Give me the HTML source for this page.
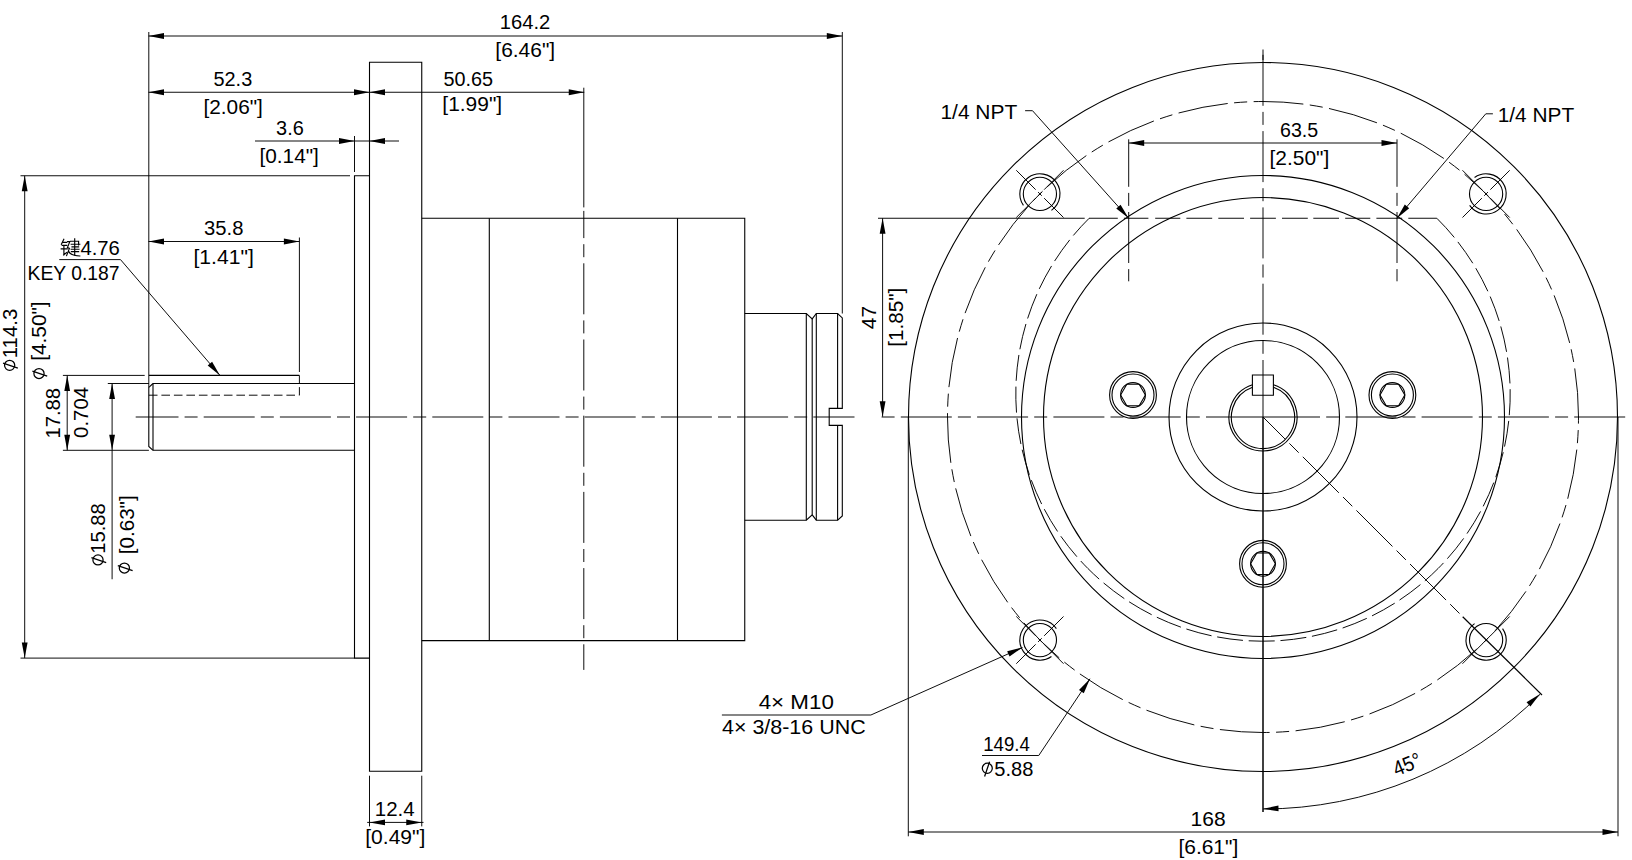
<!DOCTYPE html>
<html><head><meta charset="utf-8"><style>
html,body{margin:0;padding:0;background:#fff;overflow:hidden;width:1632px;height:860px;}
svg{display:block;}
text{font-family:"Liberation Sans",sans-serif;fill:#000;}
</style></head><body>
<svg width="1632" height="860" viewBox="0 0 1632 860">
<rect width="1632" height="860" fill="#fff"/>
<line x1="148.8" y1="32" x2="148.8" y2="387.4" stroke-width="0.95" stroke="#000"/>
<line x1="842.3" y1="32" x2="842.3" y2="313.5" stroke-width="0.95" stroke="#000"/>
<line x1="148.5" y1="36" x2="842.3" y2="36" stroke-width="0.95" stroke="#000"/>
<polygon points="148.5,36 164,38.9 164,33.1" fill="#000"/>
<polygon points="842.3,36 826.8,33.1 826.8,38.9" fill="#000"/>
<text transform="translate(499.78 28.8) scale(0.9624 1.0000)" font-size="21">164.2</text>
<text transform="translate(495.33 56.9) scale(0.9980 1.0000)" font-size="21">[6.46&quot;]</text>
<line x1="148.5" y1="92.25" x2="584.25" y2="92.25" stroke-width="0.95" stroke="#000"/>
<polygon points="148.5,92.25 164,95.15 164,89.35" fill="#000"/>
<polygon points="369.5,92.25 354,89.35 354,95.15" fill="#000"/>
<polygon points="369.5,92.25 385,95.15 385,89.35" fill="#000"/>
<polygon points="584.25,92.25 568.75,89.35 568.75,95.15" fill="#000"/>
<text transform="translate(213.5 86.1) scale(0.9473 1.0000)" font-size="21">52.3</text>
<text transform="translate(203.44 114) scale(0.9910 1.0000)" font-size="21">[2.06&quot;]</text>
<text transform="translate(443.41 86.1) scale(0.9445 1.0000)" font-size="21">50.65</text>
<text transform="translate(442.33 110.9) scale(0.9980 1.0000)" font-size="21">[1.99&quot;]</text>
<line x1="583.8" y1="87.7" x2="583.8" y2="207.4" stroke-width="0.95" stroke="#000"/>
<line x1="583.8" y1="210.9" x2="583.8" y2="669.9" stroke-width="0.95" stroke="#000" stroke-dasharray="51 6.1 13 6.1" stroke-dashoffset="23.8"/>
<line x1="255" y1="141" x2="399" y2="141" stroke-width="0.95" stroke="#000"/>
<polygon points="354.5,141 339,138.1 339,143.9" fill="#000"/>
<polygon points="369.5,141 385,143.9 385,138.1" fill="#000"/>
<line x1="354.5" y1="136" x2="354.5" y2="172" stroke-width="0.95" stroke="#000"/>
<text transform="translate(276.1 135.1) scale(0.9487 1.0000)" font-size="21">3.6</text>
<text transform="translate(259.44 163) scale(0.9910 1.0000)" font-size="21">[0.14&quot;]</text>
<polygon points="369.5,62.25 421.75,62.25 421.75,771.3 369.5,771.3" stroke-width="1.1" stroke="#000" fill="none"/>
<polyline points="369.5,175.75 354.5,175.75 354.5,658.1 369.5,658.1" stroke-width="1.1" stroke="#000" fill="none"/>
<line x1="20.5" y1="175.75" x2="350" y2="175.75" stroke-width="0.95" stroke="#000"/>
<line x1="20.5" y1="658.1" x2="354.5" y2="658.1" stroke-width="0.95" stroke="#000"/>
<line x1="24.7" y1="175.75" x2="24.7" y2="658.1" stroke-width="0.95" stroke="#000"/>
<polygon points="24.7,175.75 21.8,191.25 27.6,191.25" fill="#000"/>
<polygon points="24.7,658.1 27.6,642.6 21.8,642.6" fill="#000"/>
<polyline points="421.75,218.25 744.75,218.25 744.75,640.6 421.75,640.6" stroke-width="1.1" stroke="#000" fill="none"/>
<line x1="489.3" y1="218.25" x2="489.3" y2="640.6" stroke-width="1.1" stroke="#000"/>
<line x1="677.5" y1="218.25" x2="677.5" y2="640.6" stroke-width="1.1" stroke="#000"/>
<polyline points="744.75,313.5 806.3,313.5 812.2,318.9 816.3,313.5 837.6,313.5 842.3,317.9 842.3,408.4 829.2,408.4 829.2,425.4 842.3,425.4 842.3,516 837.6,520.2 816.3,520.2 812.2,514.8 806.3,520.2 744.75,520.2" stroke-width="1.1" stroke="#000" fill="none"/>
<line x1="806.3" y1="313.5" x2="806.3" y2="520.2" stroke-width="1.1" stroke="#000"/>
<line x1="812.2" y1="318.9" x2="812.2" y2="514.8" stroke-width="1.1" stroke="#000"/>
<line x1="816.3" y1="313.5" x2="816.3" y2="520.2" stroke-width="1.1" stroke="#000"/>
<line x1="837.6" y1="313.5" x2="837.6" y2="408.4" stroke-width="1.1" stroke="#000"/>
<line x1="837.6" y1="425.4" x2="837.6" y2="520.2" stroke-width="1.1" stroke="#000"/>
<line x1="369.5" y1="775.7" x2="369.5" y2="826.4" stroke-width="0.95" stroke="#000"/>
<line x1="421.75" y1="775.7" x2="421.75" y2="826.4" stroke-width="0.95" stroke="#000"/>
<line x1="367.2" y1="822.4" x2="423.5" y2="822.4" stroke-width="0.95" stroke="#000"/>
<polygon points="369.5,822.4 385,825.3 385,819.5" fill="#000"/>
<polygon points="421.75,822.4 406.25,819.5 406.25,825.3" fill="#000"/>
<text transform="translate(374.76 815.8) scale(0.9757 1.0000)" font-size="21">12.4</text>
<text transform="translate(365.23 843.9) scale(1.0032 1.0000)" font-size="21">[0.49&quot;]</text>
<line x1="153" y1="383.5" x2="354.5" y2="383.5" stroke-width="1.1" stroke="#000"/>
<line x1="153" y1="450.3" x2="354.5" y2="450.3" stroke-width="1.1" stroke="#000"/>
<polyline points="153,383.5 148.8,387.4 148.8,446.4 153,450.3" stroke-width="1.1" stroke="#000" fill="none"/>
<line x1="153" y1="383.5" x2="153" y2="450.3" stroke-width="1.1" stroke="#000"/>
<line x1="148.9" y1="375.4" x2="299.4" y2="375.4" stroke-width="1.1" stroke="#000"/>
<line x1="299.4" y1="237.5" x2="299.4" y2="372" stroke-width="0.95" stroke="#000"/>
<path d="M148.9 395.2 L299.4 395.2 L299.4 375.4" fill="none" stroke="#000" stroke-width="0.95" stroke-dasharray="8.6 3.9"/>
<line x1="148.5" y1="241.5" x2="299.4" y2="241.5" stroke-width="0.95" stroke="#000"/>
<polygon points="148.5,241.5 164,244.4 164,238.6" fill="#000"/>
<polygon points="299.4,241.5 283.9,238.6 283.9,244.4" fill="#000"/>
<text transform="translate(204.09 235) scale(0.9626 1.0000)" font-size="21">35.8</text>
<text transform="translate(193.42 263.6) scale(1.0068 1.0000)" font-size="21">[1.41&quot;]</text>
<line x1="59.3" y1="259.6" x2="120.5" y2="259.6" stroke-width="0.95" stroke="#000"/>
<line x1="120.5" y1="259.6" x2="220" y2="375.4" stroke-width="0.95" stroke="#000"/>
<polygon points="220,375.4 212.1,361.75 207.7,365.53" fill="#000"/>
<text transform="translate(80.39 255.2) scale(0.9650 1.0000)" font-size="21">4.76</text>
<text transform="translate(27.55 279.8) scale(0.9205 1.0000)" font-size="21">KEY 0.187</text>
<path d="M63.8 239.2 L61.4 244.2 M63.4 242.3 L66.6 242.3 M62.2 245.4 L66.8 245.4 M61.2 248.8 L67.2 248.8 M63.9 245.4 L63.9 255 M63.6 255 L66.6 252.6" stroke="#000" stroke-width="1.15" fill="none" stroke-linecap="square"/>
<path d="M70.6 241.2 L78.6 241.2 L78.6 245 M71.2 244.2 L79.8 244.2 M72 246.8 L78.6 246.8 M71.2 249.2 L79 249.2 M71.4 251.6 L78.6 251.6 M74.7 238.8 L74.7 254.8" stroke="#000" stroke-width="1.15" fill="none" stroke-linecap="square"/>
<path d="M67.6 241.6 L69.8 241.6 L67.4 247.6 L69.4 248.4 L66.6 255.6 M68.8 251.6 Q71 255.6 79.8 256" stroke="#000" stroke-width="1.15" fill="none" stroke-linecap="square"/>
<line x1="62.9" y1="375.4" x2="144.7" y2="375.4" stroke-width="0.95" stroke="#000"/>
<line x1="107.8" y1="383.5" x2="148.9" y2="383.5" stroke-width="0.95" stroke="#000"/>
<line x1="62.9" y1="450.3" x2="148.9" y2="450.3" stroke-width="0.95" stroke="#000"/>
<line x1="67.2" y1="375.4" x2="67.2" y2="450.3" stroke-width="0.95" stroke="#000"/>
<polygon points="67.2,375.4 64.3,390.9 70.1,390.9" fill="#000"/>
<polygon points="67.2,450.3 70.1,434.8 64.3,434.8" fill="#000"/>
<line x1="112.1" y1="383.5" x2="112.1" y2="579.25" stroke-width="0.95" stroke="#000"/>
<polygon points="112.1,383.5 109.2,399 115,399" fill="#000"/>
<polygon points="112.1,450.3 115,434.8 109.2,434.8" fill="#000"/>
<line x1="135.7" y1="417" x2="854.5" y2="417" stroke-width="0.95" stroke="#000" stroke-dasharray="51 6.1 13 6.1" stroke-dashoffset="8.2"/>
<text transform="translate(16.75 358.23) rotate(-90) scale(0.9709 1.0000)" font-size="21">114.3</text>
<g transform="translate(9.65 365.35) rotate(-90)"><ellipse rx="5" ry="5.1" fill="none" stroke="#000" stroke-width="1.25"/><line x1="2.3" y1="-6.6" x2="-2.7" y2="8.2" stroke="#000" stroke-width="1.25"/></g>
<text transform="translate(46.1 360.86) rotate(-90) scale(0.9927 1.0000)" font-size="21">[4.50&quot;]</text>
<g transform="translate(39 373.5) rotate(-90)"><ellipse rx="5" ry="5.1" fill="none" stroke="#000" stroke-width="1.25"/><line x1="2.3" y1="-6.6" x2="-2.7" y2="8.2" stroke="#000" stroke-width="1.25"/></g>
<text transform="translate(60.3 438.62) rotate(-90) scale(0.9664 1.0000)" font-size="21">17.88</text>
<text transform="translate(87.9 437.91) rotate(-90) scale(0.9700 1.0000)" font-size="21">0.704</text>
<text transform="translate(104.5 553.82) rotate(-90) scale(0.9624 1.0000)" font-size="21">15.88</text>
<g transform="translate(98 559.9) rotate(-90)"><ellipse rx="5" ry="5.1" fill="none" stroke="#000" stroke-width="1.25"/><line x1="2.3" y1="-6.6" x2="-2.7" y2="8.2" stroke="#000" stroke-width="1.25"/></g>
<text transform="translate(133.8 554.24) rotate(-90) scale(0.9822 1.0000)" font-size="21">[0.63&quot;]</text>
<g transform="translate(124.4 568) rotate(-90)"><ellipse rx="5" ry="5.1" fill="none" stroke="#000" stroke-width="1.25"/><line x1="2.3" y1="-6.6" x2="-2.7" y2="8.2" stroke="#000" stroke-width="1.25"/></g>
<circle cx="1263" cy="417" r="354.5" stroke-width="1.1" stroke="#000" fill="none"/>
<circle cx="1263" cy="417" r="315.5" stroke-width="0.95" stroke="#000" fill="none" stroke-dasharray="50 6.5 13 6.5" stroke-dashoffset="43.3"/>
<circle cx="1263" cy="417" r="241.5" stroke-width="1.1" stroke="#000" fill="none"/>
<circle cx="1263" cy="417" r="219.5" stroke-width="1.1" stroke="#000" fill="none"/>
<circle cx="1263" cy="417" r="94" stroke-width="1.1" stroke="#000" fill="none"/>
<circle cx="1263" cy="417" r="76.5" stroke-width="1.1" stroke="#000" fill="none"/>
<line x1="1089" y1="218.25" x2="1117.8" y2="218.25" stroke-width="0.95" stroke="#000"/>
<line x1="1123.9" y1="218.25" x2="1148.4" y2="218.25" stroke-width="0.95" stroke="#000"/>
<line x1="1155.2" y1="218.25" x2="1180.3" y2="218.25" stroke-width="0.95" stroke="#000"/>
<line x1="1186.4" y1="218.25" x2="1212.2" y2="218.25" stroke-width="0.95" stroke="#000"/>
<line x1="1218.3" y1="218.25" x2="1244" y2="218.25" stroke-width="0.95" stroke="#000"/>
<line x1="1250.1" y1="218.25" x2="1275.9" y2="218.25" stroke-width="0.95" stroke="#000"/>
<line x1="1282" y1="218.25" x2="1307.8" y2="218.25" stroke-width="0.95" stroke="#000"/>
<line x1="1313.3" y1="218.25" x2="1339" y2="218.25" stroke-width="0.95" stroke="#000"/>
<line x1="1345.2" y1="218.25" x2="1370.3" y2="218.25" stroke-width="0.95" stroke="#000"/>
<line x1="1376.4" y1="218.25" x2="1402.2" y2="218.25" stroke-width="0.95" stroke="#000"/>
<line x1="1408.3" y1="218.25" x2="1436.84" y2="218.25" stroke-width="0.95" stroke="#000"/>
<path d="M1436.84 218.25 A247.2 247.2 0 1 1 1089.16 218.25" stroke="#000" stroke-width="0.95" fill="none" stroke-dasharray="26 5.77"/>
<line x1="878" y1="218.25" x2="1084.7" y2="218.25" stroke-width="0.95" stroke="#000"/>
<path d="M1273.5 384.66 A34 34 0 1 1 1252.5 384.66" stroke-width="1.1" stroke="#000" fill="none"/>
<path d="M1273.5 387.2 A31.6 31.6 0 1 1 1252.5 387.2" stroke-width="1.1" stroke="#000" fill="none"/>
<polygon points="1252.4,375 1273.4,375 1273.4,395.3 1252.4,395.3" stroke-width="1.1" stroke="#000" fill="none"/>
<circle cx="1133" cy="395" r="23.4" stroke-width="1.1" stroke="#000" fill="none"/>
<circle cx="1133" cy="395" r="21" stroke-width="1.1" stroke="#000" fill="none"/>
<circle cx="1133" cy="395" r="12.4" stroke-width="1.1" stroke="#000" fill="none"/>
<polygon points="1145.4,395 1139.2,405.74 1126.8,405.74 1120.6,395 1126.8,384.26 1139.2,384.26" stroke-width="1.1" stroke="#000" fill="none"/>
<circle cx="1392.4" cy="395" r="23.4" stroke-width="1.1" stroke="#000" fill="none"/>
<circle cx="1392.4" cy="395" r="21" stroke-width="1.1" stroke="#000" fill="none"/>
<circle cx="1392.4" cy="395" r="12.4" stroke-width="1.1" stroke="#000" fill="none"/>
<polygon points="1404.8,395 1398.6,405.74 1386.2,405.74 1380,395 1386.2,384.26 1398.6,384.26" stroke-width="1.1" stroke="#000" fill="none"/>
<circle cx="1263" cy="563.8" r="23.4" stroke-width="1.1" stroke="#000" fill="none"/>
<circle cx="1263" cy="563.8" r="21" stroke-width="1.1" stroke="#000" fill="none"/>
<circle cx="1263" cy="563.8" r="12.4" stroke-width="1.1" stroke="#000" fill="none"/>
<polygon points="1275.4,563.8 1269.2,574.54 1256.8,574.54 1250.6,563.8 1256.8,553.06 1269.2,553.06" stroke-width="1.1" stroke="#000" fill="none"/>
<circle cx="1039.91" cy="193.91" r="16.6" stroke-width="1.1" stroke="#000" fill="none"/>
<path d="M1023.44 205.44 A20.1 20.1 0 1 1 1051.44 210.37" stroke-width="1.1" stroke="#000" fill="none"/>
<line x1="1039.91" y1="193.91" x2="1041.75" y2="195.75" stroke-width="0.95" stroke="#000"/>
<line x1="1044.15" y1="198.15" x2="1063.53" y2="217.53" stroke-width="0.95" stroke="#000"/>
<line x1="1039.91" y1="193.91" x2="1038.07" y2="195.75" stroke-width="0.95" stroke="#000"/>
<line x1="1035.67" y1="198.15" x2="1016.29" y2="217.53" stroke-width="0.95" stroke="#000"/>
<line x1="1039.91" y1="193.91" x2="1038.07" y2="192.07" stroke-width="0.95" stroke="#000"/>
<line x1="1035.67" y1="189.67" x2="1016.29" y2="170.29" stroke-width="0.95" stroke="#000"/>
<line x1="1039.91" y1="193.91" x2="1041.75" y2="192.07" stroke-width="0.95" stroke="#000"/>
<line x1="1044.15" y1="189.67" x2="1063.53" y2="170.29" stroke-width="0.95" stroke="#000"/>
<circle cx="1486.09" cy="193.91" r="16.6" stroke-width="1.1" stroke="#000" fill="none"/>
<path d="M1474.56 177.44 A20.1 20.1 0 1 1 1469.63 205.44" stroke-width="1.1" stroke="#000" fill="none"/>
<line x1="1486.09" y1="193.91" x2="1487.93" y2="195.75" stroke-width="0.95" stroke="#000"/>
<line x1="1490.33" y1="198.15" x2="1509.71" y2="217.53" stroke-width="0.95" stroke="#000"/>
<line x1="1486.09" y1="193.91" x2="1484.25" y2="195.75" stroke-width="0.95" stroke="#000"/>
<line x1="1481.85" y1="198.15" x2="1462.47" y2="217.53" stroke-width="0.95" stroke="#000"/>
<line x1="1486.09" y1="193.91" x2="1484.25" y2="192.07" stroke-width="0.95" stroke="#000"/>
<line x1="1481.85" y1="189.67" x2="1462.47" y2="170.29" stroke-width="0.95" stroke="#000"/>
<line x1="1486.09" y1="193.91" x2="1487.93" y2="192.07" stroke-width="0.95" stroke="#000"/>
<line x1="1490.33" y1="189.67" x2="1509.71" y2="170.29" stroke-width="0.95" stroke="#000"/>
<circle cx="1039.91" cy="640.09" r="16.6" stroke-width="1.1" stroke="#000" fill="none"/>
<path d="M1051.44 656.56 A20.1 20.1 0 1 1 1056.37 628.56" stroke-width="1.1" stroke="#000" fill="none"/>
<line x1="1039.91" y1="640.09" x2="1041.75" y2="641.93" stroke-width="0.95" stroke="#000"/>
<line x1="1044.15" y1="644.33" x2="1063.53" y2="663.71" stroke-width="0.95" stroke="#000"/>
<line x1="1039.91" y1="640.09" x2="1038.07" y2="641.93" stroke-width="0.95" stroke="#000"/>
<line x1="1035.67" y1="644.33" x2="1016.29" y2="663.71" stroke-width="0.95" stroke="#000"/>
<line x1="1039.91" y1="640.09" x2="1038.07" y2="638.25" stroke-width="0.95" stroke="#000"/>
<line x1="1035.67" y1="635.85" x2="1016.29" y2="616.47" stroke-width="0.95" stroke="#000"/>
<line x1="1039.91" y1="640.09" x2="1041.75" y2="638.25" stroke-width="0.95" stroke="#000"/>
<line x1="1044.15" y1="635.85" x2="1063.53" y2="616.47" stroke-width="0.95" stroke="#000"/>
<circle cx="1486.09" cy="640.09" r="16.6" stroke-width="1.1" stroke="#000" fill="none"/>
<path d="M1502.56 628.56 A20.1 20.1 0 1 1 1474.56 623.63" stroke-width="1.1" stroke="#000" fill="none"/>
<line x1="1486.09" y1="640.09" x2="1484.25" y2="641.93" stroke-width="0.95" stroke="#000"/>
<line x1="1481.85" y1="644.33" x2="1462.47" y2="663.71" stroke-width="0.95" stroke="#000"/>
<line x1="1486.09" y1="640.09" x2="1487.93" y2="638.25" stroke-width="0.95" stroke="#000"/>
<line x1="1490.33" y1="635.85" x2="1509.71" y2="616.47" stroke-width="0.95" stroke="#000"/>
<line x1="1263" y1="417" x2="1263" y2="360" stroke-width="0.95" stroke="#000"/>
<line x1="1263" y1="353.8" x2="1263" y2="340.8" stroke-width="0.95" stroke="#000"/>
<line x1="1263" y1="334.7" x2="1263" y2="283.7" stroke-width="0.95" stroke="#000"/>
<line x1="1263" y1="277.5" x2="1263" y2="264.5" stroke-width="0.95" stroke="#000"/>
<line x1="1263" y1="258.4" x2="1263" y2="207.4" stroke-width="0.95" stroke="#000"/>
<line x1="1263" y1="201.2" x2="1263" y2="188.2" stroke-width="0.95" stroke="#000"/>
<line x1="1263" y1="182.1" x2="1263" y2="131.1" stroke-width="0.95" stroke="#000"/>
<line x1="1263" y1="124.9" x2="1263" y2="111.9" stroke-width="0.95" stroke="#000"/>
<line x1="1263" y1="105.8" x2="1263" y2="54.8" stroke-width="0.95" stroke="#000"/>
<line x1="1263" y1="49.5" x2="1263" y2="60" stroke-width="0.95" stroke="#000"/>
<line x1="1263" y1="417" x2="1263" y2="812" stroke-width="1.5" stroke="#000"/>
<line x1="1263" y1="417" x2="1206" y2="417" stroke-width="0.95" stroke="#000"/>
<line x1="1199.8" y1="417" x2="1186.8" y2="417" stroke-width="0.95" stroke="#000"/>
<line x1="1180.7" y1="417" x2="1129.7" y2="417" stroke-width="0.95" stroke="#000"/>
<line x1="1123.5" y1="417" x2="1110.5" y2="417" stroke-width="0.95" stroke="#000"/>
<line x1="1104.4" y1="417" x2="1053.4" y2="417" stroke-width="0.95" stroke="#000"/>
<line x1="1047.2" y1="417" x2="1034.2" y2="417" stroke-width="0.95" stroke="#000"/>
<line x1="1028.1" y1="417" x2="977.1" y2="417" stroke-width="0.95" stroke="#000"/>
<line x1="970.9" y1="417" x2="957.9" y2="417" stroke-width="0.95" stroke="#000"/>
<line x1="951.8" y1="417" x2="900.8" y2="417" stroke-width="0.95" stroke="#000"/>
<line x1="894.6" y1="417" x2="881.6" y2="417" stroke-width="0.95" stroke="#000"/>
<line x1="1263" y1="417" x2="1320" y2="417" stroke-width="0.95" stroke="#000"/>
<line x1="1326.2" y1="417" x2="1339.2" y2="417" stroke-width="0.95" stroke="#000"/>
<line x1="1345.3" y1="417" x2="1396.3" y2="417" stroke-width="0.95" stroke="#000"/>
<line x1="1402.5" y1="417" x2="1415.5" y2="417" stroke-width="0.95" stroke="#000"/>
<line x1="1421.6" y1="417" x2="1472.6" y2="417" stroke-width="0.95" stroke="#000"/>
<line x1="1478.8" y1="417" x2="1491.8" y2="417" stroke-width="0.95" stroke="#000"/>
<line x1="1497.9" y1="417" x2="1548.9" y2="417" stroke-width="0.95" stroke="#000"/>
<line x1="1555.1" y1="417" x2="1568.1" y2="417" stroke-width="0.95" stroke="#000"/>
<line x1="1574.2" y1="417" x2="1625.2" y2="417" stroke-width="0.95" stroke="#000"/>
<line x1="1263" y1="417" x2="1285.27" y2="439.27" stroke-width="0.95" stroke="#000"/>
<line x1="1289.38" y1="443.38" x2="1298.71" y2="452.71" stroke-width="0.95" stroke="#000"/>
<line x1="1302.81" y1="456.81" x2="1338.87" y2="492.87" stroke-width="0.95" stroke="#000"/>
<line x1="1342.97" y1="496.97" x2="1352.31" y2="506.31" stroke-width="0.95" stroke="#000"/>
<line x1="1356.41" y1="510.41" x2="1392.47" y2="546.47" stroke-width="0.95" stroke="#000"/>
<line x1="1396.57" y1="550.57" x2="1405.91" y2="559.91" stroke-width="0.95" stroke="#000"/>
<line x1="1410.01" y1="564.01" x2="1446.07" y2="600.07" stroke-width="0.95" stroke="#000"/>
<line x1="1450.17" y1="604.17" x2="1459.5" y2="613.5" stroke-width="0.95" stroke="#000"/>
<line x1="1462.7" y1="616.7" x2="1542" y2="695" stroke-width="1.2" stroke="#000"/>
<path d="M1540.19 694.19 A392 392 0 0 1 1263 809" stroke-width="0.95" stroke="#000" fill="none"/>
<polygon points="1263,808.8 1278.56,811.36 1278.43,805.57" fill="#000"/>
<polygon points="1540,694 1526.54,702.21 1530.42,706.52" fill="#000"/>
<text transform="translate(1406.6 764.3) rotate(-22.5) translate(-13.88 7.35) scale(0.8991 1.0000)" font-size="21">45°</text>
<line x1="908.3" y1="417" x2="908.3" y2="836.3" stroke-width="0.95" stroke="#000"/>
<line x1="1618" y1="417" x2="1618" y2="836.3" stroke-width="0.95" stroke="#000"/>
<line x1="908.3" y1="832" x2="1618" y2="832" stroke-width="0.95" stroke="#000"/>
<polygon points="908.3,832 923.8,834.9 923.8,829.1" fill="#000"/>
<polygon points="1618,832 1602.5,829.1 1602.5,834.9" fill="#000"/>
<text transform="translate(1190.52 825.8) scale(1.0015 1.0000)" font-size="21">168</text>
<text transform="translate(1178.43 853.9) scale(0.9980 1.0000)" font-size="21">[6.61&quot;]</text>
<line x1="882.6" y1="218.25" x2="882.6" y2="416.7" stroke-width="0.95" stroke="#000"/>
<polygon points="882.6,218.25 879.7,233.75 885.5,233.75" fill="#000"/>
<polygon points="882.6,416.7 885.5,401.2 879.7,401.2" fill="#000"/>
<text transform="translate(875.9 329.22) rotate(-90) scale(0.9982 1.0000)" font-size="21">47</text>
<text transform="translate(903.4 346.85) rotate(-90) scale(0.9857 1.0000)" font-size="21">[1.85&quot;]</text>
<line x1="1128.7" y1="139.3" x2="1128.7" y2="281.3" stroke-width="0.95" stroke="#000" stroke-dasharray="51 6.1 13 6.1" stroke-dashoffset="3.5"/>
<line x1="1397" y1="139.3" x2="1397" y2="281.3" stroke-width="0.95" stroke="#000" stroke-dasharray="51 6.1 13 6.1" stroke-dashoffset="3.5"/>
<line x1="1128.7" y1="143" x2="1397" y2="143" stroke-width="0.95" stroke="#000"/>
<polygon points="1128.7,143 1144.2,145.9 1144.2,140.1" fill="#000"/>
<polygon points="1397,143 1381.5,140.1 1381.5,145.9" fill="#000"/>
<text transform="translate(1280.02 136.9) scale(0.9344 1.0000)" font-size="21">63.5</text>
<text transform="translate(1269.54 164.8) scale(0.9962 1.0000)" font-size="21">[2.50&quot;]</text>
<text transform="translate(940.43 119) scale(0.9977 1.0000)" font-size="21">1/4 NPT</text>
<line x1="1025.1" y1="110.7" x2="1032.5" y2="110.7" stroke-width="0.95" stroke="#000"/>
<line x1="1032.5" y1="110.7" x2="1128.7" y2="218.25" stroke-width="0.95" stroke="#000"/>
<polygon points="1128.7,218.25 1120.57,204.74 1116.24,208.59" fill="#000"/>
<text transform="translate(1497.74 121.6) scale(0.9924 1.0000)" font-size="21">1/4 NPT</text>
<line x1="1485.8" y1="113.8" x2="1492.9" y2="113.8" stroke-width="0.95" stroke="#000"/>
<line x1="1485.8" y1="113.8" x2="1397" y2="218.25" stroke-width="0.95" stroke="#000"/>
<polygon points="1397,218.25 1409.2,208.26 1404.77,204.53" fill="#000"/>
<text transform="translate(758.65 708.8) scale(1.0662 1.0000)" font-size="21">4× M10</text>
<text transform="translate(721.97 733.6) scale(1.0227 1.0000)" font-size="21">4× 3/8-16 UNC</text>
<line x1="721.9" y1="715" x2="870.9" y2="715" stroke-width="0.95" stroke="#000"/>
<line x1="870.9" y1="715" x2="1022.5" y2="647.5" stroke-width="0.95" stroke="#000"/>
<polygon points="1022.5,647.5 1007.16,651.16 1009.52,656.45" fill="#000"/>
<text transform="translate(983.2 750.6) scale(0.8868 1.0000)" font-size="21">149.4</text>
<text transform="translate(994.3 775.5) scale(0.9549 1.0000)" font-size="21">5.88</text>
<g transform="translate(987.3 768.3) rotate(0)"><ellipse rx="5" ry="5.1" fill="none" stroke="#000" stroke-width="1.25"/><line x1="2.3" y1="-6.6" x2="-2.7" y2="8.2" stroke="#000" stroke-width="1.25"/></g>
<line x1="982" y1="755.5" x2="1038.75" y2="755.5" stroke-width="0.95" stroke="#000"/>
<line x1="1038.75" y1="755.5" x2="1090" y2="678.75" stroke-width="0.95" stroke="#000"/>
<polygon points="1090,678.75 1078.98,690.03 1083.8,693.25" fill="#000"/>
</svg></body></html>
